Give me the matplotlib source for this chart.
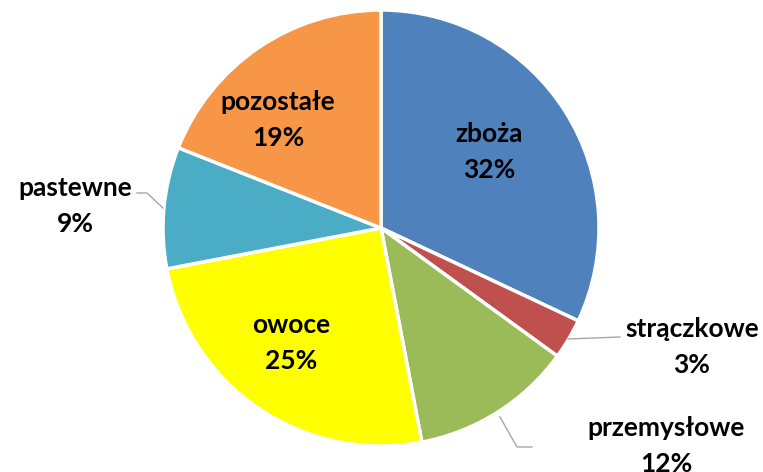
import matplotlib.pyplot as plt

# data
categories = ["zboża", "strączkowe", "przemysłowe", "owoce", "pastewne", "pozostałe"]
shares = [32, 3, 12, 25, 9, 19]
colors = ["#4F81BD", "#C0504D", "#9BBB59", "#FFFF00", "#4BACC6", "#F79646"]

W, H = 763, 472
fig = plt.figure(figsize=(W / 100, H / 100), dpi=100)
ax = fig.add_axes([0, 0, 1, 1])
ax.set_xlim(0, W)
ax.set_ylim(0, H)
ax.set_aspect("equal")
ax.axis("off")

cx, cy, r = 381, H - 228, 218
ax.pie(shares, colors=colors, startangle=90, counterclock=False,
       center=(cx, cy), radius=r,
       wedgeprops=dict(edgecolor="white", linewidth=2.5))
ax.set_xlim(0, W)
ax.set_ylim(0, H)

# label block centres (pixel coords from top)
label_pos = [(489, 152), (692, 347), (666, 446), (291, 343), (75, 206), (278, 120)]
for name, val, (x, y) in zip(categories, shares, label_pos):
    ax.text(x, H - y, f"{name}\n{val}%", ha="center", va="center",
            fontsize=19, fontweight="bold", family="Lato",
            linespacing=1.6, color="black")

# leader lines
lc = "#A6A6A6"
ax.plot([568, 620], [H - 339, H - 337], color=lc, lw=1)
ax.plot([500, 517, 532], [H - 417, H - 447, H - 447], color=lc, lw=1)
ax.plot([137, 147, 163], [H - 193, H - 193, H - 208], color=lc, lw=1)

fig.savefig("out.png", dpi=100)
